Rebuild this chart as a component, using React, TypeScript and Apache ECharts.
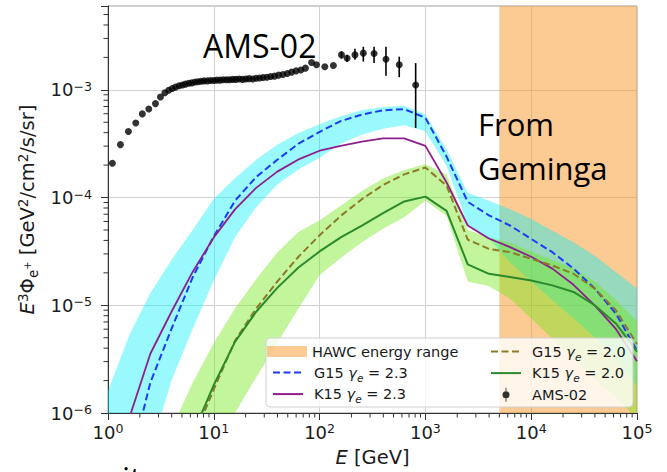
import React, { useEffect, useRef } from 'react';
import * as echarts from 'echarts';

// ---------- data ----------
const energyGrid = [1, 1.585, 2.512, 3.981, 6.31, 10, 15.85, 25.12, 39.81, 63.1, 100, 158.5, 251.2, 398.1, 631, 1000, 1585, 2512, 3981, 6310, 10000, 15850, 25120, 39810, 63100, 100000];

const g15Gamma23 = [3.16e-8, 3.16e-7, 1.91e-6, 6.03e-6, 1.82e-5, 4.37e-5, 9.33e-5, 1.55e-4, 2.24e-4, 3.16e-4, 4.07e-4, 5.13e-4, 5.89e-4, 6.46e-4, 6.61e-4, 5.5e-4, 2.4e-4, 9.12e-5, 6.84e-5, 5.5e-5, 4.13e-5, 3.11e-5, 2.19e-5, 1.43e-5, 8.38e-6, 3.8e-6];
const k15Gamma23 = [1.26e-7, 8.91e-7, 3.55e-6, 8.71e-6, 2.04e-5, 4.27e-5, 7.76e-5, 1.23e-4, 1.74e-4, 2.26e-4, 2.72e-4, 3.02e-4, 3.31e-4, 3.55e-4, 3.55e-4, 3.02e-4, 1.38e-4, 5.5e-5, 4.17e-5, 3.47e-5, 2.82e-5, 2.19e-5, 1.55e-5, 1.0e-5, 6.03e-6, 3.02e-6];
const g15Gamma20 = [null, null, null, 1.58e-7, 5.62e-7, 1.66e-6, 4.68e-6, 9.33e-6, 1.66e-5, 2.82e-5, 4.47e-5, 6.76e-5, 9.66e-5, 1.31e-4, 1.64e-4, 1.9e-4, 1.29e-4, 4.07e-5, 3.34e-5, 3.11e-5, 2.7e-5, 2.34e-5, 1.96e-5, 1.43e-5, 8.99e-6, 4.37e-6];
const k15Gamma20 = [null, null, null, 1.58e-7, 6.31e-7, 1.82e-6, 4.57e-6, 8.71e-6, 1.45e-5, 2.24e-5, 3.16e-5, 4.27e-5, 5.5e-5, 7.18e-5, 9.2e-5, 1.02e-4, 7.53e-5, 2.4e-5, 1.96e-5, 1.83e-5, 1.7e-5, 1.53e-5, 1.33e-5, 1.0e-5, 6.78e-6, 3.72e-6];

const band23Upper = [1.6e-6, 5.25e-6, 1.29e-5, 2.63e-5, 5.01e-5, 9.77e-5, 1.51e-4, 2.24e-4, 3.09e-4, 3.98e-4, 4.79e-4, 5.69e-4, 6.46e-4, 6.92e-4, 7.13e-4, 5.89e-4, 2.8e-4, 1.11e-4, 9.33e-5, 7.82e-5, 6.31e-5, 4.93e-5, 3.85e-5, 2.88e-5, 2.04e-5, 1.43e-5];
const band23Lower = [3.16e-8, 1.26e-7, 4.47e-7, 2.0e-6, 6.03e-6, 1.7e-5, 4.27e-5, 8.13e-5, 1.32e-4, 1.82e-4, 2.34e-4, 3.16e-4, 3.85e-4, 4.35e-4, 4.68e-4, 4.13e-4, 1.96e-4, 5.62e-5, 4.17e-5, 2.51e-5, 1.66e-5, 1.12e-5, 7.59e-6, 5.01e-6, 3.16e-6, 1.78e-6];
const band20Upper = [null, null, 1.58e-7, 7.08e-7, 1.91e-6, 4.47e-6, 9.33e-6, 1.74e-5, 3.09e-5, 4.79e-5, 6.17e-5, 8.38e-5, 1.15e-4, 1.5e-4, 1.8e-4, 2.04e-4, 1.64e-4, 5.01e-5, 4.27e-5, 3.8e-5, 3.16e-5, 2.63e-5, 2.19e-5, 1.66e-5, 1.12e-5, 7.08e-6];
const band20Lower = [null, null, 1.0e-8, 3.0e-8, 1.26e-7, 4.47e-7, 1.0e-6, 2.14e-6, 4.47e-6, 9.33e-6, 1.91e-5, 2.75e-5, 3.85e-5, 5.13e-5, 6.55e-5, 9.33e-5, 6.76e-5, 1.66e-5, 1.51e-5, 1.15e-5, 7.59e-6, 4.9e-6, 3.24e-6, 2.09e-6, 1.38e-6, 8.91e-7];

const amsEnergy = [1.10, 1.31, 1.56, 1.83, 2.11, 2.43, 2.81, 3.13, 3.45, 3.75, 4.05, 4.35, 4.7, 5.05, 5.4, 5.8, 6.2, 6.65, 7.1, 7.6, 8.1, 8.7, 9.3, 10.0, 10.7, 11.5, 12.3, 13.2, 14.1, 15.1, 16.2, 17.4, 18.7, 20.1, 21.6, 23.3, 25.1, 27.1, 29.3, 31.8, 34.5, 37.5, 41, 45, 49.5, 54.5, 60, 66.5, 73.5, 84, 93.5, 112, 135, 161, 182, 216, 259, 327, 424, 566, 809];
const amsFlux = [2.08e-4, 3.1e-4, 4.1e-4, 4.93e-4, 5.98e-4, 6.65e-4, 7.45e-4, 8.57e-4, 9.4e-4, 9.9e-4, 1.03e-3, 1.06e-3, 1.09e-3, 1.11e-3, 1.13e-3, 1.15e-3, 1.16e-3, 1.18e-3, 1.19e-3, 1.2e-3, 1.21e-3, 1.21e-3, 1.22e-3, 1.22e-3, 1.23e-3, 1.23e-3, 1.24e-3, 1.24e-3, 1.24e-3, 1.25e-3, 1.25e-3, 1.26e-3, 1.25e-3, 1.26e-3, 1.27e-3, 1.26e-3, 1.28e-3, 1.29e-3, 1.3e-3, 1.31e-3, 1.33e-3, 1.34e-3, 1.37e-3, 1.39e-3, 1.42e-3, 1.46e-3, 1.5e-3, 1.53e-3, 1.59e-3, 1.79e-3, 1.71e-3, 1.64e-3, 1.68e-3, 2.11e-3, 1.96e-3, 2.11e-3, 2.19e-3, 2.17e-3, 1.92e-3, 1.71e-3, 1.11e-3];
const amsErrEnergy = [161, 182, 216, 259, 327, 424, 566, 809];
const amsErrLow = [1.95e-3, 1.82e-3, 1.9e-3, 1.83e-3, 1.77e-3, 1.35e-3, 1.31e-3, 4.43e-4];
const amsErrHigh = [2.28e-3, 2.12e-3, 2.4e-3, 2.51e-3, 2.51e-3, 2.51e-3, 2.03e-3, 1.77e-3];

const hawcRange = [5000, 100000];

const X_MIN = 1, X_MAX = 1e5, Y_MIN = 1e-6, Y_MAX = 6e-3;
const xDecades = [1, 10, 100, 1000, 10000];
const yDecades = [1e-6, 1e-5, 1e-4, 1e-3];
const minorMult = [2, 3, 4, 5, 6, 7, 8, 9];

// ---------- styles ----------
const FONT = '"DejaVu Sans", sans-serif';
const TXT = '#1a1a1a';
const ORANGE = 'rgba(250,150,40,0.5)';
const CYAN = 'rgba(0,240,250,0.4)';
const LGREEN = 'rgba(110,230,20,0.42)';
const BLUE = '#1c3cf6';
const PURPLE = '#8e1f8e';
const OLIVE = '#8c7a2a';
const GREEN = '#2c8a2c';

const pairs = (ys: (number | null)[]) =>
  energyGrid.map((e, i) => [e, ys[i]]).filter((p) => p[1] != null);

const bandSeries = (name: string, upper: (number | null)[], lower: (number | null)[], color: string) => ({
  type: 'custom',
  name,
  silent: true,
  clip: true,
  z: 2,
  data: [[10, 1e-4]],
  renderItem: (params: any, api: any) => {
    const pts: number[][] = [];
    energyGrid.forEach((e, i) => {
      if (upper[i] != null) pts.push(api.coord([e, upper[i]]));
    });
    for (let i = energyGrid.length - 1; i >= 0; i--) {
      if (lower[i] != null) pts.push(api.coord([energyGrid[i], lower[i]]));
    }
    return { type: 'polygon', shape: { points: pts }, style: { fill: color } };
  },
});

const isPow10 = (v: number) => Math.abs(Math.log10(v) - Math.round(Math.log10(v))) < 1e-6;
const expLabel = (v: number) => {
  if (!isPow10(v)) return '';
  const e = Math.round(Math.log10(v));
  const s = e < 0 ? '\u2212' + Math.abs(e) : String(e);
  return `{b|10}{s|${s}}`;
};
const tickRich = {
  b: { fontFamily: FONT, fontSize: 18, color: TXT, lineHeight: 20 },
  s: { fontFamily: FONT, fontSize: 12.6, color: TXT, lineHeight: 12, verticalAlign: 'top' },
};

const legendRich = {
  g: { fontFamily: FONT, fontStyle: 'italic', fontSize: 14.5, lineHeight: 21, color: TXT },
  e: { fontFamily: FONT, fontStyle: 'italic', fontSize: 10.5, lineHeight: 12, verticalAlign: 'bottom', color: TXT },
  n: { fontFamily: FONT, fontSize: 14.5, lineHeight: 21, color: TXT },
};
const legendFormatter = (name: string) => {
  const m = name.match(/^(\w+) γe = ([\d.]+)$/);
  if (m) return `{n|${m[1]} }{g|γ}{e|e}{n| = ${m[2]}}`;
  return `{n|${name}}`;
};
const legendBase = {
  orient: 'vertical',
  padding: 0,
  selectedMode: false,
  z: 20,
  formatter: legendFormatter,
  textStyle: { fontFamily: FONT, fontSize: 14.5, color: TXT, lineHeight: 21, rich: legendRich },
};
const lineItem = (name: string) => ({ name, itemStyle: { opacity: 0, borderWidth: 0 } });
const AMS_ICON = 'path://M4.4,0H5.6V5.5H4.4Z M4.4,14.5H5.6V20H4.4Z M10,10A5,5,0,1,1,0,10A5,5,0,1,1,10,10Z';

const option: any = {
  animation: false,
  backgroundColor: '#ffffff',
  grid: { left: 108, right: 30, top: 6, bottom: 57, show: true, borderColor: '#9a9a9a', borderWidth: 1, backgroundColor: 'transparent' },
  xAxis: {
    type: 'log',
    logBase: 10,
    min: X_MIN,
    max: X_MAX,
    name: '{it|E} [GeV]',
    nameLocation: 'middle',
    nameGap: 34,
    nameTextStyle: {
      fontFamily: FONT, fontSize: 19.5, color: TXT,
      rich: { it: { fontFamily: FONT, fontStyle: 'italic', fontSize: 19.5, color: TXT } },
    },
    axisLine: { show: true, onZero: false, lineStyle: { color: '#333', width: 1 } },
    axisTick: { show: true, inside: false, length: 7, lineStyle: { color: '#333', width: 1 } },
    axisLabel: { margin: 9, formatter: expLabel, rich: tickRich, fontFamily: FONT, fontSize: 18, color: TXT },
    splitLine: { show: true, lineStyle: { color: '#d2d2d2', width: 1 } },
  },
  yAxis: {
    type: 'log',
    logBase: 10,
    min: Y_MIN,
    max: Y_MAX,
    name: '{it|E}{sup|3}Φ{sub|e}{ps|+} [GeV{sup|2}/cm{sup|2}/s/sr]',
    nameLocation: 'middle',
    nameRotate: 90,
    nameGap: 66,
    nameTextStyle: {
      fontFamily: FONT, fontSize: 19.5, color: TXT, lineHeight: 24,
      rich: {
        it: { fontFamily: FONT, fontStyle: 'italic', fontSize: 19.5, color: TXT, lineHeight: 24 },
        sup: { fontFamily: FONT, fontSize: 13.5, color: TXT, lineHeight: 14, verticalAlign: 'top' },
        sub: { fontFamily: FONT, fontSize: 13.5, color: TXT, lineHeight: 14, verticalAlign: 'bottom' },
        ps: { fontFamily: FONT, fontSize: 10, color: TXT, lineHeight: 10, verticalAlign: 'middle' },
      },
    },
    axisLine: { show: true, onZero: false, lineStyle: { color: '#333', width: 1 } },
    axisTick: { show: true, inside: false, length: 7, lineStyle: { color: '#333', width: 1 } },
    axisLabel: { margin: 16, formatter: expLabel, rich: tickRich, fontFamily: FONT, fontSize: 18, color: TXT },
    splitLine: { show: true, lineStyle: { color: '#d2d2d2', width: 1 } },
  },
  legend: [
    { ...legendBase, data: [{ name: 'HAWC energy range', icon: 'rect' }], left: 267, top: 341, itemWidth: 40, itemHeight: 11 },
    {
      ...legendBase, data: [lineItem('G15 γe = 2.3'), lineItem('K15 γe = 2.3')], left: 272, top: 362, itemWidth: 30, itemHeight: 14, itemGap: 0.6,
      textStyle: { ...legendBase.textStyle, padding: [0, 0, 0, 6] },
    },
    {
      ...legendBase, data: [lineItem('G15 γe = 2.0'), lineItem('K15 γe = 2.0'), { name: 'AMS-02', icon: AMS_ICON }], left: 490, top: 341, itemWidth: 30, itemHeight: 14, itemGap: 0.6,
      textStyle: { ...legendBase.textStyle, padding: [0, 0, 0, 6] },
    },
  ],
  graphic: [
    { type: 'rect', z: 10, silent: true, shape: { x: 266, y: 338, width: 367, height: 69, r: 4 }, style: { fill: 'rgba(255,255,255,0.8)', stroke: '#d0d0d0', lineWidth: 1 } },
    { type: 'text', z: 12, silent: true, x: 203, y: 45, style: { text: 'AMS-02', font: '32px "Open Sans", sans-serif', fill: '#000', verticalAlign: 'middle' } },
    { type: 'text', z: 12, silent: true, x: 478, y: 124, style: { text: 'From', font: '31px "Open Sans", sans-serif', fill: '#000', verticalAlign: 'middle' } },
    { type: 'text', z: 12, silent: true, x: 478, y: 168, style: { text: 'Geminga', font: '31px "Open Sans", sans-serif', fill: '#000', verticalAlign: 'middle' } },
    { type: 'text', z: 12, silent: true, x: 122, y: 478, style: { text: 'it', font: '32px "Open Sans", sans-serif', fill: '#000', verticalAlign: 'middle' } },
  ],
  series: [
    {
      type: 'custom',
      name: 'HAWC energy range',
      silent: true,
      clip: true,
      z: 1,
      itemStyle: { color: ORANGE },
      data: [hawcRange],
      encode: { x: [0, 1] },
      renderItem: (params: any, api: any) => {
        const p0 = api.coord([api.value(0), Y_MAX]);
        const p1 = api.coord([api.value(1), Y_MIN]);
        return { type: 'rect', shape: { x: p0[0], y: p0[1], width: p1[0] - p0[0], height: p1[1] - p0[1] }, style: { fill: ORANGE } };
      },
    },
    bandSeries('band γ2.3', band23Upper, band23Lower, CYAN),
    bandSeries('band γ2.0', band20Upper, band20Lower, LGREEN),
    {
      type: 'line', name: 'G15 γe = 2.3', data: pairs(g15Gamma23), symbol: 'none', z: 4, silent: true,
      lineStyle: { color: BLUE, width: 2, type: [7, 3.5] }, itemStyle: { color: BLUE },
    },
    {
      type: 'line', name: 'K15 γe = 2.3', data: pairs(k15Gamma23), symbol: 'none', z: 4, silent: true,
      lineStyle: { color: PURPLE, width: 1.8 }, itemStyle: { color: PURPLE },
    },
    {
      type: 'line', name: 'G15 γe = 2.0', data: pairs(g15Gamma20), symbol: 'none', z: 4, silent: true,
      lineStyle: { color: OLIVE, width: 2, type: [7, 3.5] }, itemStyle: { color: OLIVE },
    },
    {
      type: 'line', name: 'K15 γe = 2.0', data: pairs(k15Gamma20), symbol: 'none', z: 4, silent: true,
      lineStyle: { color: GREEN, width: 2 }, itemStyle: { color: GREEN },
    },
    {
      type: 'custom',
      name: 'AMS-02 errors',
      silent: true,
      z: 5,
      data: amsErrEnergy.map((e, i) => [e, amsErrLow[i], amsErrHigh[i]]),
      encode: { x: 0, y: [1, 2] },
      renderItem: (params: any, api: any) => {
        const a = api.coord([api.value(0), api.value(1)]);
        const b = api.coord([api.value(0), api.value(2)]);
        return { type: 'line', shape: { x1: a[0], y1: a[1], x2: b[0], y2: b[1] }, style: { stroke: '#000', lineWidth: 1.6 } };
      },
    },
    {
      type: 'scatter', name: 'AMS-02', z: 6, silent: true,
      data: amsEnergy.map((e, i) => [e, amsFlux[i]]),
      symbol: 'circle', symbolSize: 7, itemStyle: { color: '#000' },
    },
    {
      type: 'custom',
      name: 'minor ticks',
      silent: true,
      clip: false,
      z: 6,
      data: [[10, 1e-4]],
      renderItem: (params: any, api: any) => {
        const children: any[] = [];
        const style = { stroke: '#333', lineWidth: 1 };
        xDecades.forEach((d) => minorMult.forEach((k) => {
          const v = d * k;
          if (v >= X_MAX) return;
          const p = api.coord([v, Y_MIN]);
          children.push({ type: 'line', shape: { x1: p[0], y1: p[1], x2: p[0], y2: p[1] + 4.5 }, style });
        }));
        yDecades.forEach((d) => minorMult.forEach((k) => {
          const v = d * k;
          if (v >= Y_MAX) return;
          const p = api.coord([X_MIN, v]);
          children.push({ type: 'line', shape: { x1: p[0] - 4.5, y1: p[1], x2: p[0], y2: p[1] }, style });
        }));
        return { type: 'group', children };
      },
    },
  ],
};

export default function App() {
  const ref = useRef<HTMLDivElement>(null);
  useEffect(() => {
    document.body.style.margin = '0';
    const chart = echarts.init(ref.current as HTMLDivElement, null, { renderer: 'svg' });
    chart.setOption(option);
    return () => chart.dispose();
  }, []);
  return <div ref={ref} style={{ width: 667, height: 472, position: 'absolute', left: 0, top: 0 }} />;
}
